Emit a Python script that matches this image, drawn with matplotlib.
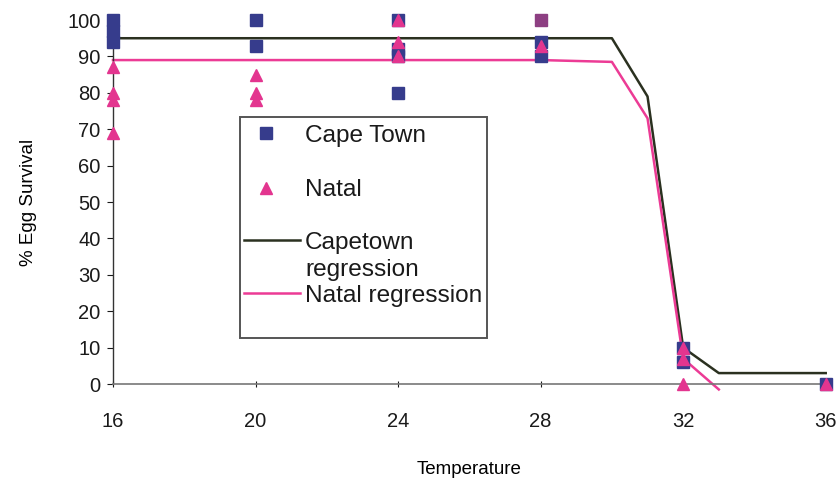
import matplotlib.pyplot as plt
from matplotlib.lines import Line2D
from matplotlib.patches import Rectangle

plt.rcParams['font.family'] = ['Liberation Sans', 'DejaVu Sans']

# observed survival
cape_temp = [16, 16, 16, 20, 20, 24, 24, 24, 24, 28, 28, 32, 32, 36]
cape_surv = [100, 97, 94, 100, 93, 100, 92, 90, 80, 94, 90, 10, 6, 0]
natal_temp = [16, 16, 16, 16, 20, 20, 20, 24, 24, 24, 28, 32, 32, 32, 36]
natal_surv = [87, 80, 78, 69, 85, 80, 78, 100, 94, 90, 93, 10, 7, 0, 0]
# point where both populations overlap at 100 %
both_temp = [28]
both_surv = [100]

# fitted regression curves
cape_reg_temp = [16, 20, 24, 28, 30, 31, 32, 33, 34, 35, 36]
cape_reg_surv = [95, 95, 95, 95, 95, 79, 10, 3, 3, 3, 3]
natal_reg_temp = [16, 20, 24, 28, 30, 31, 32, 33]
natal_reg_surv = [89, 89, 89, 89, 88.5, 73, 7, -1.5]

cape_col = '#363c8c'
natal_col = '#e3358f'
cape_line = '#2b3120'
natal_line = '#ec3b95'

fig = plt.figure(figsize=(8.4, 4.84), dpi=100)
ax = fig.add_axes([0.1345, 0.2066, 0.8485, 0.752])

ax.plot(cape_reg_temp, cape_reg_surv, color=cape_line, lw=1.8, zorder=2, clip_on=False)
ax.plot(natal_reg_temp, natal_reg_surv, color=natal_line, lw=1.8, zorder=2, clip_on=False)
ax.plot(cape_temp, cape_surv, 's', color=cape_col, ms=8.5, zorder=3, clip_on=False)
ax.plot(natal_temp, natal_surv, '^', color=natal_col, ms=9, zorder=4, clip_on=False)
ax.plot(both_temp, both_surv, 's', color='#8d3f82', ms=8.5, zorder=5, clip_on=False)

ax.set_xlim(16, 36)
ax.set_ylim(0, 100)
ax.set_xticks([16, 20, 24, 28, 32, 36])
ax.set_yticks(range(0, 101, 10))
ax.tick_params(axis='both', labelsize=14.5, colors='#1a1a1a', length=4, width=0.8)
ax.tick_params(axis='x', direction='inout', pad=18)
ax.tick_params(axis='y', direction='out', pad=5)

for s in ['top', 'right']:
    ax.spines[s].set_visible(False)
ax.spines['left'].set_color('#333333')
ax.spines['bottom'].set_color('#777777')
ax.spines['left'].set_linewidth(1.0)
ax.spines['bottom'].set_linewidth(1.2)

ax.set_xlabel('Temperature', fontsize=13.5, labelpad=22)
ax.set_ylabel('% Egg Survival', fontsize=13.5, labelpad=22)

# legend box, laid out by hand like the spreadsheet original
tr = ax.transAxes
ax.add_patch(Rectangle((0.178, 0.126), 0.347, 0.608, transform=tr, fill=True,
                       facecolor='white', edgecolor='#555555', lw=1.4, zorder=6))
ax.add_line(Line2D([0.2146], [0.6896], transform=tr, marker='s', color=cape_col,
                   ms=8.5, ls='none', zorder=7))
ax.add_line(Line2D([0.2146], [0.5385], transform=tr, marker='^', color=natal_col,
                   ms=9, ls='none', zorder=7))
ax.add_line(Line2D([0.1837, 0.2623], [0.3956, 0.3956], transform=tr,
                   color=cape_line, lw=1.8, zorder=7))
ax.add_line(Line2D([0.1837, 0.2623], [0.25, 0.25], transform=tr,
                   color=natal_line, lw=1.8, zorder=7))
leg_text = [('Cape Town', 0.6648), ('Natal', 0.5165), ('Capetown', 0.3709),
            ('regression', 0.2967), ('Natal regression', 0.2253)]
for txt, yy in leg_text:
    ax.text(0.2693, yy, txt, transform=tr, fontsize=17.6, va='baseline',
            ha='left', color='#1a1a1a', zorder=8)

fig.savefig('out.png', dpi=100)
